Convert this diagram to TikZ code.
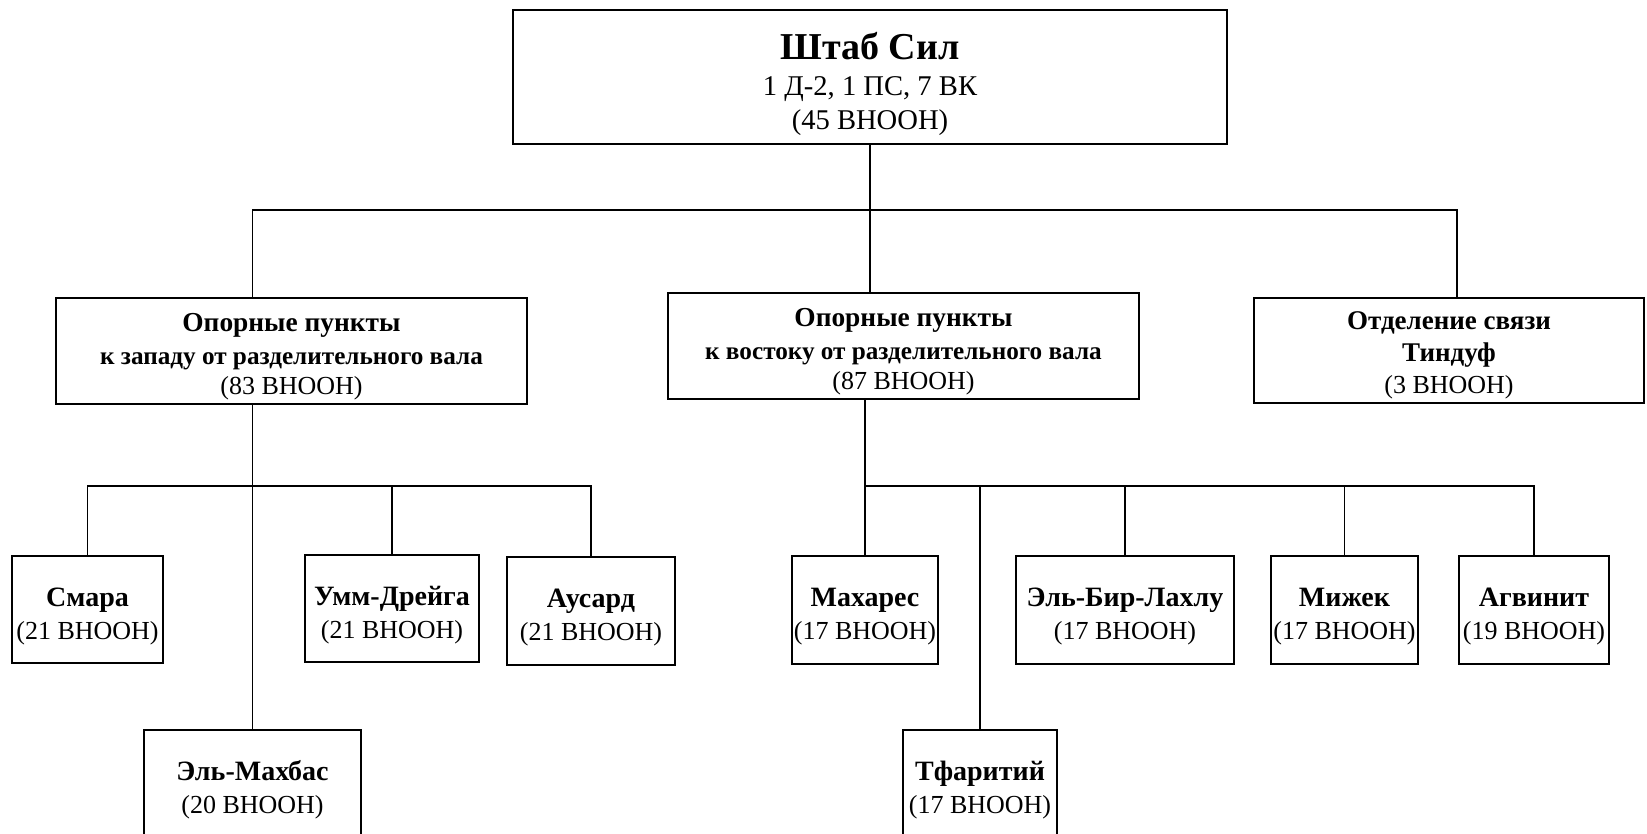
\documentclass[tikz,border=0pt]{standalone}
\usepackage{fontspec}
\setmainfont{Liberation Serif}

\begin{document}
\begin{tikzpicture}[
        x=0.5pt, y=-0.5pt,
        unitbox/.style={
            draw=black,
            line width=1.2pt,
            align=center,
            inner sep=0pt,
            font=\fontsize{13}{16.5}\selectfont},
        myline/.style={line width=0.75pt}
        ]
        \useasboundingbox (0,0) rectangle (1647,834);

        \node[unitbox,minimum width=357pt,minimum height=67pt,
              font=\fontsize{14.3}{17}\selectfont] (hq) at (870,77)
            {{\fontsize{19}{19}\selectfont\bfseries\rule{0pt}{20.7pt}Штаб Сил}\\[1pt]
             1 Д-2, 1 ПС, 7 ВК\\(45 ВНООН)};

        \node[unitbox,minimum width=235.5pt,minimum height=53pt] (west) at (291.5,351)
            {{\fontsize{13.7}{14}\selectfont\bfseries\rule{0pt}{14.3pt}Опорные пункты}\\[0.3pt]
             {\fontsize{12.6}{14}\selectfont\bfseries к западу от разделительного вала}\\[-1.8pt](83 ВНООН)};
        \node[unitbox,minimum width=235.5pt,minimum height=53pt] (east) at (903.5,346)
            {{\fontsize{13.7}{14}\selectfont\bfseries\rule{0pt}{14.3pt}Опорные пункты}\\[0.3pt]
             {\fontsize{12.6}{14}\selectfont\bfseries к востоку от разделительного вала}\\[-1.8pt](87 ВНООН)};
        \node[unitbox,minimum width=195pt,minimum height=52.5pt] (comm) at (1449,350.5)
            {{\fontsize{13.5}{14}\selectfont\bfseries\rule{0pt}{13.5pt}Отделение связи}\\[-0.6pt]
             {\fontsize{13.5}{14}\selectfont\bfseries Тиндуф}\\[-0.6pt](3 ВНООН)};

        % west sites
        \node[unitbox,minimum width=75.5pt,minimum height=53.5pt] (sm) at (87.5,609.5)
            {\rule{0pt}{16pt}\textbf{\fontsize{14}{16.5}\selectfont Смара}\\(21 ВНООН)};
        \node[unitbox,minimum width=87pt,minimum height=53.5pt] (ud) at (392,608.5)
            {\rule{0pt}{16pt}\textbf{\fontsize{14}{16.5}\selectfont Умм-Дрейга}\\(21 ВНООН)};
        \node[unitbox,minimum width=84pt,minimum height=54pt] (aus) at (591,611)
            {\rule{0pt}{16pt}\textbf{\fontsize{14}{16.5}\selectfont Аусард}\\(21 ВНООН)};
        \node[unitbox,minimum width=108.5pt,minimum height=60pt] (emb) at (252.5,790)
            {\textbf{\fontsize{14}{16.5}\selectfont Эль-Махбас}\\(20 ВНООН)};

        % east sites
        \node[unitbox,minimum width=73pt,minimum height=54pt] (mah) at (865,610)
            {\rule{0pt}{16pt}\textbf{\fontsize{14}{16.5}\selectfont Махарес}\\(17 ВНООН)};
        \node[unitbox,minimum width=77pt,minimum height=60pt] (tf) at (980,790)
            {\textbf{\fontsize{14}{16.5}\selectfont Тфаритий}\\(17 ВНООН)};
        \node[unitbox,minimum width=109pt,minimum height=54pt] (ebl) at (1125,610)
            {\rule{0pt}{16pt}\textbf{\fontsize{14}{16.5}\selectfont Эль-Бир-Лахлу}\\(17 ВНООН)};
        \node[unitbox,minimum width=73.5pt,minimum height=54pt] (mzh) at (1344.5,610)
            {\rule{0pt}{16pt}\textbf{\fontsize{14}{16.5}\selectfont Мижек}\\(17 ВНООН)};
        \node[unitbox,minimum width=75pt,minimum height=54pt] (agv) at (1534,610)
            {\rule{0pt}{16pt}\textbf{\fontsize{14}{16.5}\selectfont Агвинит}\\(19 ВНООН)};

        \coordinate (bus0) at (0,210);
        \coordinate (bus1) at (0,486);
        \coordinate (commin) at ([xshift=4pt]comm.north);

        \draw[myline] (hq.south) -- (hq.south |- east.north);
        \draw[myline] (west.north -| emb.north) |- (bus0 -| commin) -- (commin);
        \draw[myline] (west.south -| emb.north) -- (emb.north);
        \draw[myline] (sm.north) |- (bus1 -| aus.north) -- (aus.north);
        \draw[myline] (east.south -| mah.north) -- (mah.north);
        \draw[myline] (mah.north |- bus1) -| (agv.north);

        \foreach \n in {ud,tf,ebl,mzh}
            \draw[myline] (\n.north) -- (\n.north |- bus1);
\end{tikzpicture}
\end{document}
